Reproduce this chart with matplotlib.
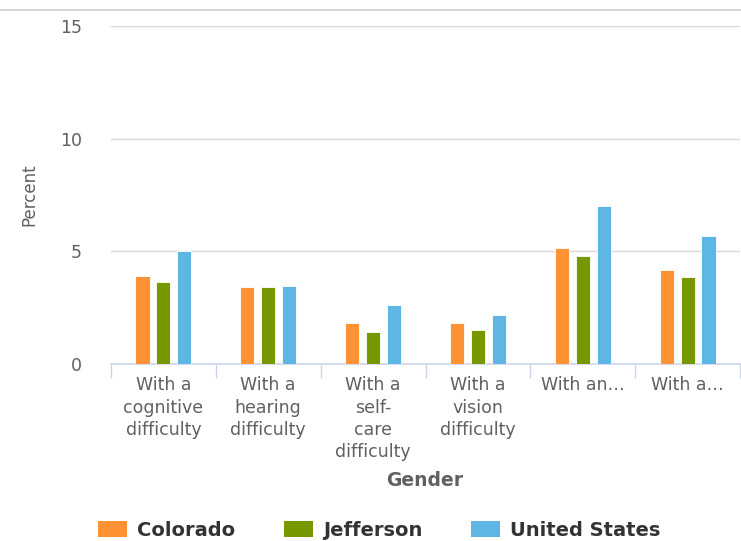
import numpy as np
import matplotlib
matplotlib.use('Agg')
import matplotlib.pyplot as plt
from matplotlib.patches import Patch
from matplotlib.lines import Line2D

####################
# data
categories = ["With a\ncognitive\ndifficulty", "With a\nhearing\ndifficulty",
              "With a\nself-\ncare\ndifficulty", "With a\nvision\ndifficulty",
              "With an\u2026", "With a\u2026"]
colorado = [3.9, 3.41, 1.84, 1.84, 5.15, 4.17]
jefferson = [3.63, 3.41, 1.42, 1.5, 4.79, 3.84]
united_states = [5.0, 3.48, 2.6, 2.18, 7.0, 5.68]
series_names = ["Colorado", "Jefferson", "United States"]
colors = ["#FF9234", "#789800", "#5EB6E4"]
####################

fig = plt.figure(figsize=(7.41, 5.41), dpi=100)
ax = fig.add_axes([111/741, 1-364/541, 629/741, (364-26)/541])

x = np.arange(len(categories))
w = 0.135
off = 0.2
for k, vals in enumerate([colorado, jefferson, united_states]):
    ax.bar(x + (k-1)*off, vals, width=w, color=colors[k], edgecolor='white',
           linewidth=0.6, zorder=3, label=series_names[k])

ax.set_xlim(-0.5, len(categories)-0.5)
ax.set_ylim(0, 15)
ax.set_yticks([0, 5, 10, 15])
ax.grid(axis='y', color='#d8d8d8', linewidth=1, zorder=0)
ax.set_xticks(x)
ax.set_xticklabels(categories, fontsize=12.5, color='#606060', linespacing=1.3)
ax.tick_params(axis='x', length=0, pad=9)
ax.set_xticks(np.arange(-0.5, len(categories)), minor=True)
ax.tick_params(axis='x', which='minor', length=10, color='#ccd6eb', width=1)
ax.tick_params(axis='y', length=0, labelsize=12.5, labelcolor='#606060', pad=21)
for s in ['top', 'right', 'left']:
    ax.spines[s].set_visible(False)
ax.spines['bottom'].set_color('#ccd6eb')
ax.spines['bottom'].set_linewidth(1.2)

fig.text(29/741, 1-195/541, "Percent", rotation=90, ha='center', va='center',
         fontsize=12, color='#606060', fontweight='medium')
fig.text(425/741, 1-480/541, "Gender", ha='center', va='center',
         fontsize=13.5, color='#606060', fontweight='bold')

# separator line near the top
fig.add_artist(Line2D([0, 1], [1-10/541, 1-10/541], color='#d0d0d0', linewidth=1.2))

handles = [Patch(facecolor=c, edgecolor='none') for c in colors]
leg = fig.legend(handles, series_names, loc='center', bbox_to_anchor=(379/741, 1-530/541),
                 ncol=3, frameon=False, handlelength=1.5, handleheight=0.9,
                 handletextpad=0.5, columnspacing=2.5, borderpad=0, borderaxespad=0,
                 prop={'size': 14, 'weight': 'bold'})
for t in leg.get_texts():
    t.set_color('#333333')

plt.savefig("out.png", dpi=100)
